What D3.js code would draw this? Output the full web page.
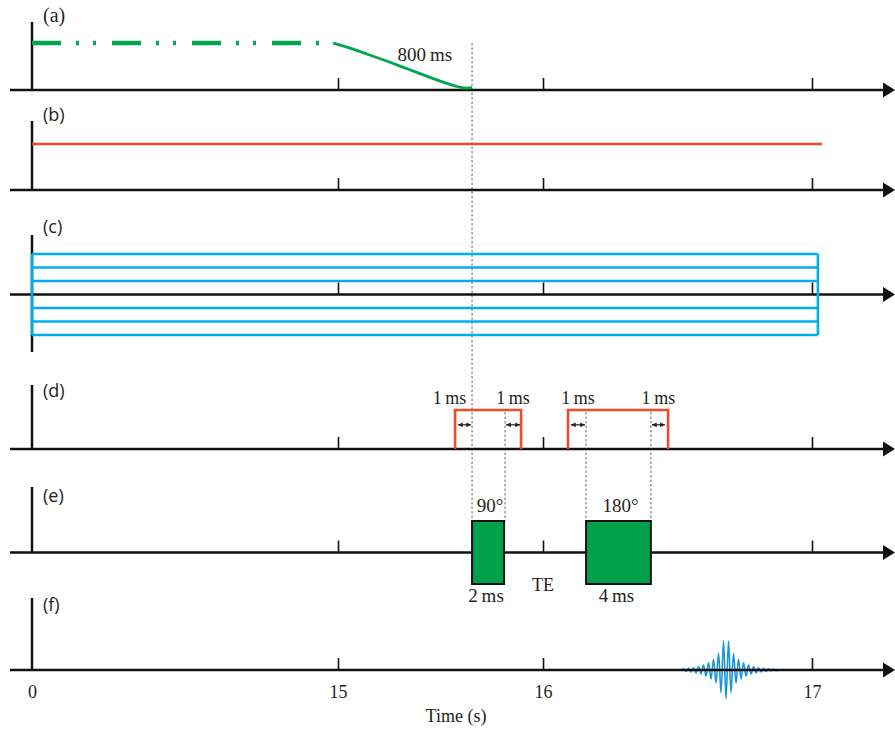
<!DOCTYPE html>
<html>
<head>
<meta charset="utf-8">
<script src="https://cdn.jsdelivr.net/npm/d3@7"></script>
<style>
  body { margin: 0; background: #fff; }
  svg { display: block; }
</style>
</head>
<body>
<div id="canvas"></div>
<script>
"use strict";

/* ------------------------------------------------------------
   Pulse sequence timing diagram, six stacked panels (a)-(f)
   on a shared (broken) time axis.
------------------------------------------------------------- */

let svgWidth = 895;
let svgHeight = 731;

/* === Data === */
let axisTimes = [0, 15, 16, 17];          // labelled times (s)
let tickTimes = [15, 16, 17];             // small ticks on every panel
let panelLabels = ["(a)", "(b)", "(c)", "(d)", "(e)", "(f)"];

// (a) polarizing field: held on, then ramped down over 800 ms
let holdEnd = 14.755;
let decayTimes = [14.755, 15.059, 15.141, 15.224, 15.302, 15.385, 15.463, 15.532, 15.595, 15.629, 15.654];
let decayLevels = [1, 0.894, 0.766, 0.638, 0.511, 0.372, 0.245, 0.138, 0.053, 0.032, 0.053];

// (b) constant field
let rfFieldEnd = 17.037;

// (c) phase-encoding steps
let phaseLevels = [3, 2, 1, -1, -2, -3];
let phaseEnd = 17.022;

// (d) slice-select lobes and their 1 ms ramps
let sliceStart = [15.571, 16.093];
let sliceEnd = [15.893, 16.465];
let rampStart = [15.580, 15.815, 16.100, 16.401];
let rampEnd = [15.654, 15.893, 16.160, 16.457];
let rampLabels = ["1\u2009ms", "1\u2009ms", "1\u2009ms", "1\u2009ms"];

// (e) RF pulses
let pulseStart = [15.654, 16.160];
let pulseEnd = [15.810, 16.401];
let pulseAngles = ["90°", "180°"];
let pulseDurations = ["2\u2009ms", "4\u2009ms"];
let echoTimeLabel = "TE";

// (f) spin echo, signed peak amplitudes
let echoStart = 16.513;
let echoStep = 0.0093;
let echoAmps = [
  -0.03, 0.04, -0.05, 0.06, -0.07, 0.08, -0.10, 0.12, -0.14, 0.17,
  -0.21, 0.25, -0.31, 0.37, -0.45, 0.58, -0.78, 1.0, -1.0, 1.0,
  -0.78, 0.58, -0.45, 0.37, -0.31, 0.25, -0.21, 0.17, -0.14, 0.12,
  -0.10, 0.08, -0.07, 0.06, -0.05, 0.04, -0.03, 0.03, -0.02, 0.02
];

/* === Layout === */
let panelBase = [90, 190, 294.5, 449, 552.5, 670];
let panelUnit = [47, 46, 13.5, 39, 31.5, 29];
let panelTop = [22, 121, 235, 385, 487, 598];
let labelY = [22, 121, 233, 397, 502, 611];
let axisLeftX = 10;
let axisRightX = 895;

let serif = "'Liberation Serif', 'Times New Roman', serif";
let sans = "'Open Sans', 'DejaVu Sans', sans-serif";
let ink = "#231f20";

/* === Scales === */
let xScale = d3.scaleLinear()
  .domain(axisTimes)
  .range([32, 338, 543, 812]);

let yScales = panelBase.map((b, i) =>
  d3.scaleLinear().domain([0, 1]).range([b, b - panelUnit[i]]));

/* === SVG === */
let svg = d3.select("#canvas")
  .append("svg")
  .attr("width", svgWidth)
  .attr("height", svgHeight);

svg.append("defs").append("marker")
  .attr("id", "head")
  .attr("viewBox", "0 0 8 8")
  .attr("refX", 8)
  .attr("refY", 4)
  .attr("markerWidth", 4)
  .attr("markerHeight", 4)
  .attr("orient", "auto-start-reverse")
  .append("path")
  .attr("d", "M0,0 L8,4 L0,8 z")
  .attr("fill", ink);

/* === Axes for each panel === */
function drawAxes(i) {
  let base = panelBase[i];
  let g = svg.append("g");

  // vertical axis
  let bottom = i === 2 ? base + (base - panelTop[i]) - 2 : base;
  g.append("line")
    .attr("x1", xScale(0)).attr("x2", xScale(0))
    .attr("y1", panelTop[i]).attr("y2", bottom)
    .attr("stroke", "#111").attr("stroke-width", 2.5);

  // time line with arrow
  g.append("line")
    .attr("x1", axisLeftX).attr("x2", axisRightX - 11)
    .attr("y1", base).attr("y2", base)
    .attr("stroke", "#111").attr("stroke-width", 2.5);
  g.append("path")
    .attr("d", `M${axisRightX - 12},${base - 7.5} L${axisRightX},${base} L${axisRightX - 12},${base + 7.5} Z`)
    .attr("fill", "#111");

  // small ticks
  let ticks = g.append("g")
    .attr("transform", `translate(0, ${base})`)
    .call(d3.axisTop(xScale).tickValues(tickTimes).tickSize(12).tickSizeOuter(0).tickFormat(""));
  ticks.select(".domain").remove();
  ticks.selectAll(".tick line").attr("stroke", "#111").attr("stroke-width", 1.6);

  g.append("text")
    .attr("x", xScale(0) + 11)
    .attr("y", labelY[i])
    .attr("font-family", i === 0 ? serif : sans)
    .attr("font-size", i === 0 ? "20px" : "18px")
    .attr("fill", ink)
    .text(panelLabels[i]);
}

/* === Dotted guides === */
let guideTop = rampStart.map((d, i) => i === 0 ? yScales[0](1) : yScales[3](1) + 2);
let guideTimes = [rampEnd[0], rampStart[1], rampEnd[2], rampStart[3]];
svg.selectAll("line.guide")
  .data(guideTimes)
  .enter()
  .append("line")
  .classed("guide", true)
  .attr("x1", d => xScale(d)).attr("x2", d => xScale(d))
  .attr("y1", (d, i) => guideTop[i])
  .attr("y2", yScales[4](1))
  .attr("stroke", "#9a9a9a")
  .attr("stroke-width", 1.5)
  .attr("stroke-dasharray", "2.5,2");

[0, 1, 3, 4].forEach(drawAxes);

/* === (a) polarizing field === */
svg.append("line")
  .attr("x1", xScale(0)).attr("x2", xScale(holdEnd))
  .attr("y1", yScales[0](1)).attr("y2", yScales[0](1))
  .attr("stroke", "#00a651")
  .attr("stroke-width", 4.5)
  .attr("stroke-dasharray", "29,15,3,14,3,16");

let decayLine = d3.line()
  .x(d => xScale(d[0]))
  .y(d => yScales[0](d[1]))
  .curve(d3.curveBasis);

svg.append("path")
  .attr("d", decayLine(d3.zip(decayTimes, decayLevels)))
  .attr("fill", "none")
  .attr("stroke", "#00a651")
  .attr("stroke-width", 2.8);

svg.append("text")
  .attr("x", xScale(decayTimes[decayTimes.length - 1]) - 20)
  .attr("y", 61)
  .attr("text-anchor", "end")
  .attr("font-family", serif)
  .attr("font-size", "19px")
  .attr("fill", ink)
  .text("800\u2009ms");

/* === (b) === */
svg.append("line")
  .attr("x1", xScale(0)).attr("x2", xScale(rfFieldEnd))
  .attr("y1", yScales[1](1)).attr("y2", yScales[1](1))
  .attr("stroke", "#ef4a2a")
  .attr("stroke-width", 2.4);

/* === (c) phase encoding === */
drawAxes(2);
let cGroup = svg.append("g")
  .attr("stroke", "#00aeef")
  .attr("stroke-width", 2.6)
  .attr("fill", "none");

cGroup.selectAll("line.step")
  .data(phaseLevels)
  .enter()
  .append("line")
  .classed("step", true)
  .attr("x1", xScale(0)).attr("x2", xScale(phaseEnd))
  .attr("y1", d => yScales[2](d)).attr("y2", d => yScales[2](d));

[0, phaseEnd].forEach(t => {
  cGroup.append("line")
    .attr("x1", xScale(t)).attr("x2", xScale(t))
    .attr("y1", yScales[2](d3.max(phaseLevels)))
    .attr("y2", yScales[2](d3.min(phaseLevels)));
});

/* === (d) slice select === */
svg.selectAll("path.lobe")
  .data(d3.zip(sliceStart, sliceEnd))
  .enter()
  .append("path")
  .classed("lobe", true)
  .attr("d", d => `M${xScale(d[0])},${yScales[3](0)} V${yScales[3](1)} H${xScale(d[1])} V${yScales[3](0)}`)
  .attr("fill", "none")
  .attr("stroke", "#ef4a2a")
  .attr("stroke-width", 2.6);

svg.selectAll("line.ramp")
  .data(d3.zip(rampStart, rampEnd))
  .enter()
  .append("line")
  .classed("ramp", true)
  .attr("x1", d => xScale(d[0]) + 1).attr("x2", d => xScale(d[1]) - 1)
  .attr("y1", yScales[3](0.62)).attr("y2", yScales[3](0.62))
  .attr("stroke", ink)
  .attr("stroke-width", 1.2)
  .attr("marker-start", "url(#head)")
  .attr("marker-end", "url(#head)");

svg.selectAll("text.ramp")
  .data(rampLabels)
  .enter()
  .append("text")
  .classed("ramp", true)
  .attr("x", (d, i) => (xScale(rampStart[i]) + xScale(rampEnd[i])) / 2 + (i === 0 ? -15 : 0))
  .attr("y", 404)
  .attr("text-anchor", "middle")
  .attr("font-family", serif)
  .attr("font-size", "18px")
  .attr("fill", ink)
  .text(d => d);

/* === (e) RF pulses === */
svg.selectAll("rect.pulse")
  .data(d3.zip(pulseStart, pulseEnd))
  .enter()
  .append("rect")
  .classed("pulse", true)
  .attr("x", d => xScale(d[0]))
  .attr("y", yScales[4](1))
  .attr("width", d => xScale(d[1]) - xScale(d[0]))
  .attr("height", yScales[4](-1) - yScales[4](1))
  .attr("fill", "#00a14b")
  .attr("stroke", "#111")
  .attr("stroke-width", 2);

svg.selectAll("text.angle")
  .data(pulseAngles)
  .enter()
  .append("text")
  .classed("angle", true)
  .attr("x", (d, i) => (xScale(pulseStart[i]) + xScale(pulseEnd[i])) / 2 + 2)
  .attr("y", 512)
  .attr("text-anchor", "middle")
  .attr("font-family", serif)
  .attr("font-size", "19px")
  .attr("fill", ink)
  .text(d => d);

svg.selectAll("text.dur")
  .data(pulseDurations)
  .enter()
  .append("text")
  .classed("dur", true)
  .attr("x", (d, i) => (xScale(pulseStart[i]) + xScale(pulseEnd[i])) / 2 - 2)
  .attr("y", 602)
  .attr("text-anchor", "middle")
  .attr("font-family", serif)
  .attr("font-size", "19px")
  .attr("fill", ink)
  .text(d => d);

svg.append("text")
  .attr("x", xScale(16))
  .attr("y", 591)
  .attr("text-anchor", "middle")
  .attr("font-family", serif)
  .attr("font-size", "18px")
  .attr("fill", ink)
  .text(echoTimeLabel);

/* === (f) echo === */
let echoLine = d3.line()
  .x((d, i) => xScale(echoStart + i * echoStep))
  .y(d => yScales[5](d))
  .curve(d3.curveCatmullRom);

svg.append("path")
  .attr("d", echoLine(echoAmps))
  .attr("fill", "none")
  .attr("stroke", "#1b95d8")
  .attr("stroke-width", 1.6);

drawAxes(5);

/* === Time axis labels === */
let timeAxis = svg.append("g")
  .attr("transform", `translate(0, ${panelBase[5]})`)
  .call(d3.axisBottom(xScale).tickValues(axisTimes).tickSize(0).tickPadding(15).tickFormat(d3.format("d")));
timeAxis.select(".domain").remove();
timeAxis.selectAll("text")
  .attr("font-family", serif)
  .attr("font-size", "18px")
  .attr("fill", ink);

svg.append("text")
  .attr("x", 456)
  .attr("y", 722)
  .attr("text-anchor", "middle")
  .attr("font-family", serif)
  .attr("font-size", "18px")
  .attr("fill", ink)
  .text("Time (s)");
</script>
</body>
</html>
